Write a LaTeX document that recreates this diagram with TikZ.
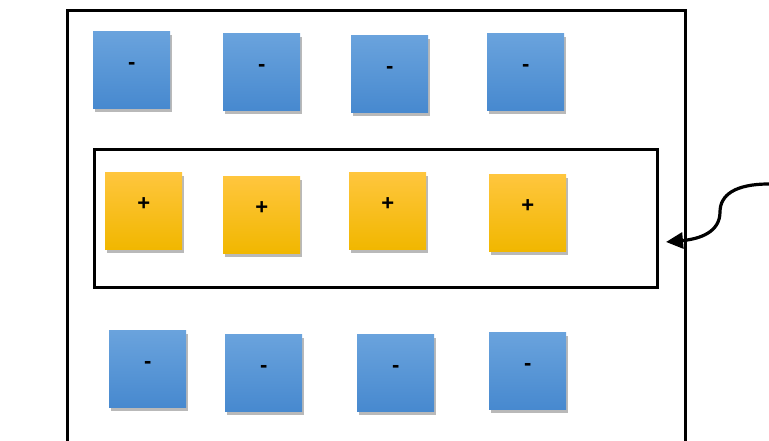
\documentclass[tikz,border=0pt]{standalone}
\usepackage{fontspec}
\setmainfont{Liberation Sans}
\usetikzlibrary{arrows.meta,shadows,calc}
\definecolor{bluetop}{HTML}{6AA3DD}
\definecolor{bluebot}{HTML}{4789CF}
\definecolor{goldtop}{HTML}{FFC63E}
\definecolor{goldbot}{HTML}{F1B700}
\tikzset{
    charge/.style={
        minimum width=77pt, minimum height=77pt,
        inner sep=0pt, anchor=north west,
        drop shadow={opacity=0.55, shadow xshift=2pt, shadow yshift=-4pt},
        font=\fontsize{22}{22}\selectfont\bfseries,
        text depth=0pt, text height=0pt
    },
    negcharge/.style={charge, top color=bluetop, bottom color=bluebot},
    poscharge/.style={charge, top color=goldtop, bottom color=goldbot}
}

\begin{document}
\begin{tikzpicture}[x=1pt,y=-1pt]
    \useasboundingbox (0,0) rectangle (769,441);
    % outer frame, open at the bottom
    \draw[line width=3pt] (67,441) -- (67,11) -- (685,11) -- (685,441);
    % band of positive charges
    \node[draw, line width=2.6pt, minimum width=563pt, minimum height=138pt,
        anchor=north west, inner sep=0pt] (band) at (93,148) {};
    % top row
    \foreach \x/\y [count=\i] in {93/31, 223/33, 351/35, 487/33}
        \node[negcharge] (top\i) at (\x,\y) {-};
    % middle row
    \foreach \x/\y [count=\i] in {105/172, 223/176, 349/172, 489/174}
        \node[poscharge] (mid\i) at (\x,\y) {+};
    % bottom row
    \foreach \x/\y [count=\i] in {109/330, 225/334, 357/334, 489/332}
        \node[negcharge] (bot\i) at (\x,\y) {-};
    % pointer
    \coordinate (src) at (769,184);
    \coordinate (tip) at (666,242);
    \draw[line width=3.2pt, -{Triangle[length=17pt,width=16pt]}]
        (src) .. controls (735,184) and (720,195) .. (720,212)
        .. controls (720,232) and (700,239) .. (tip);
\end{tikzpicture}
\end{document}
